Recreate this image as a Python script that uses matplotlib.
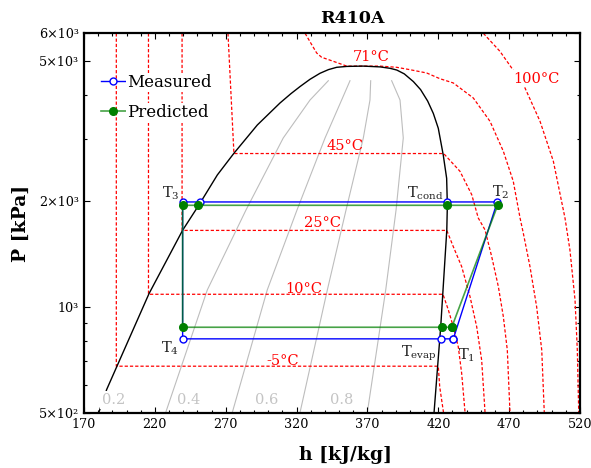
import matplotlib
matplotlib.use('Agg')
import matplotlib.pyplot as plt
from matplotlib.ticker import FixedLocator, NullFormatter, MultipleLocator

plt.rcParams['font.family'] = ['DejaVu Serif']
plt.rcParams['mathtext.fontset'] = 'dejavuserif'

# saturation dome (h kJ/kg, P kPa)
dome_h = [180.4, 186.0, 215.9, 239.6, 251.1, 264.1, 275.8, 292.3, 308.3, 316.0, 322.4, 329.5, 336.5,
          342.5, 348.3, 355.4, 366.9, 378.9, 386.0, 390.7, 396.0, 402.4, 407.5, 412.5, 416.5,
          420.0, 423.5, 425.9, 426.4, 426.0, 421.7, 417.0]
dome_p = [500, 582, 1091, 1652, 1949, 2373, 2735, 3291, 3801, 4040, 4232, 4440, 4617,
          4730, 4802, 4830, 4840, 4815, 4770, 4717, 4600, 4374, 4150, 3850, 3550,
          3221, 2704, 2321, 1945, 1652, 877, 500]

# isotherms
iso_m5_h = [192.8, 192.8, 420.0, 421.0, 423.7]
iso_m5_p = [6000, 678, 678, 593, 500]
iso_10_h = [215.5, 215.5, 423.3, 427.1, 430.6, 434.1, 436.5, 438.9]
iso_10_p = [6000, 1086, 1086, 980, 878, 770, 647, 500]
iso_25_h = [239.2, 239.2, 426.0, 430.6, 436.5, 442.4, 447.1, 450.6, 453.0]
iso_25_p = [6000, 1650, 1650, 1483, 1302, 1069, 878, 706, 500]
iso_45_h = [271.6, 275.8, 423.8, 435.3, 443.6, 448.2, 453.0, 457.7, 462.4, 465.9, 468.7, 470.6]
iso_45_p = [6000, 2730, 2730, 2430, 2085, 1790, 1655, 1389, 1141, 938, 754, 500]
iso_71_h = [326.0, 330.7, 334.2, 337.7, 345.9, 355.4, 378.9, 390.7, 400.0, 411.8, 421.2, 430.6,
            444.7, 456.5, 465.9, 472.9, 477.7, 480.0, 484.7, 489.4, 493.0, 494.8]
iso_71_p = [6000, 5568, 5273, 5128, 4995, 4840, 4840, 4802, 4728, 4627, 4456, 4334,
            3928, 3371, 2771, 2277, 1790, 1620, 1302, 1001, 754, 500]
iso_100_h = [451.8, 463.5, 471.8, 481.2, 491.8, 501.2, 509.4, 512.9, 516.5, 518.1, 519.1]
iso_100_p = [6000, 5332, 4780, 4193, 3371, 2595, 1790, 1451, 1046, 754, 500]

# quality lines
q_p = [500, 1117, 1886, 3023, 3876, 4398]
q02_h = [227.6, 257.0, 284.3, 310.6, 329.5, 342.4]
q04_h = [274.6, 299.3, 320.3, 340.1, 351.8, 357.7]
q06_h = [322.4, 341.7, 354.9, 367.1, 371.8, 372.3]
q08_h = [369.9, 382.9, 390.2, 395.3, 393.0, 387.1]

# cycle
meas_h = [430.6, 461.6, 426.4, 251.6, 239.6, 239.6, 421.7, 430.6]
meas_p = [811, 1988, 1988, 1988, 1988, 811, 811, 811]
pred_h = [429.5, 461.9, 426.4, 250.4, 239.6, 239.6, 422.4, 429.5]
pred_p = [875, 1945, 1945, 1945, 1945, 875, 875, 875]

fig = plt.figure(figsize=(5.91, 4.68), dpi=100)
ax = fig.add_axes([84/591, 1-412.7/468, 496/591, 379.4/468])

dash = (0, (2.6, 1.6))
for hh, pp in [(iso_m5_h, iso_m5_p), (iso_10_h, iso_10_p), (iso_25_h, iso_25_p),
               (iso_45_h, iso_45_p), (iso_71_h, iso_71_p), (iso_100_h, iso_100_p)]:
    ax.plot(hh, pp, color='red', lw=0.9, ls=dash, zorder=2)

for qh in [q02_h, q04_h, q06_h, q08_h]:
    ax.plot(qh, q_p, color='#bdbdbd', lw=0.8, zorder=1)

ax.plot(dome_h, dome_p, color='black', lw=1.0, zorder=3)

ax.plot(meas_h, meas_p, color='blue', lw=1.0, marker='o', ms=5, mfc='white',
        mec='blue', mew=1.0, label='Measured', zorder=4)
ax.plot(pred_h, pred_p, color=(0, 0.5, 0, 0.72), lw=1.2, marker='o', ms=5.5, mfc='green',
        mec='green', label='Predicted', zorder=5)

# isotherm labels
wb = dict(facecolor='white', edgecolor='none', pad=1)
ax.text(372.4, 5137, '71°C', color='red', fontsize=10.5, ha='center', va='center')
ax.text(489.2, 4453, '100°C', color='red', fontsize=10.5, ha='center', va='center', bbox=wb, zorder=3)
ax.text(354.2, 2872, '45°C', color='red', fontsize=10.5, ha='center', va='center')
ax.text(338.3, 1735, '25°C', color='red', fontsize=10.5, ha='center', va='center')
ax.text(325.1, 1126, '10°C', color='red', fontsize=10.5, ha='center', va='center')
ax.text(310.0, 702, '-5°C', color='red', fontsize=10.5, ha='center', va='center')

# quality labels
for xq, lab in zip([190.7, 244.1, 298.9, 351.8], ['0.2', '0.4', '0.6', '0.8']):
    ax.text(xq, 544, lab, color='#c4c4c4', fontsize=10.5, ha='center', va='center',
            bbox=dict(facecolor='white', edgecolor='none', pad=1.5), zorder=3.5)

# state point labels
tc = '#222222'
ax.text(231.4, 2108, r'T$_3$', color=tc, fontsize=10.5, ha='center', va='center')
ax.text(423.5, 2105, r'T$_{\rm cond}$', color=tc, fontsize=10.5, ha='right', va='center')
ax.text(464.1, 2115, r'T$_2$', color=tc, fontsize=10.5, ha='center', va='center')
ax.text(230.7, 763, r'T$_4$', color=tc, fontsize=10.5, ha='center', va='center')
ax.text(418.9, 738, r'T$_{\rm evap}$', color=tc, fontsize=10.5, ha='right', va='center')
ax.text(440.0, 730, r'T$_1$', color=tc, fontsize=10.5, ha='center', va='center')

ax.set_xlim(170, 520)
ax.set_yscale('log')
ax.set_ylim(500, 6000)

ax.xaxis.set_major_locator(FixedLocator([170, 220, 270, 320, 370, 420, 470, 520]))
ax.xaxis.set_minor_locator(MultipleLocator(10))
ax.yaxis.set_major_locator(FixedLocator([500, 1000, 2000, 5000, 6000]))
ax.yaxis.set_major_formatter(plt.FixedFormatter(['5×10²', '10³', '2×10³', '5×10³', '6×10³']))
ax.yaxis.set_minor_locator(FixedLocator([600, 700, 800, 900, 3000, 4000]))
ax.yaxis.set_minor_formatter(NullFormatter())
ax.tick_params(which='both', direction='in', top=True, right=True, labelsize=9.2, width=0.8)
ax.tick_params(which='major', length=4)
ax.tick_params(which='minor', length=2.5)
for s in ax.spines.values():
    s.set_linewidth(1.6)

ax.set_xlabel('h [kJ/kg]', fontsize=13.5, fontweight='bold')
ax.xaxis.set_label_coords(0.528, -0.088)
ax.set_ylabel('P [kPa]', fontsize=13.5, fontweight='bold')
ax.yaxis.set_label_coords(-0.109, 0.5)

fig.text(352.5/591, 1-18.3/468, 'R410A', fontsize=12.5, fontweight='bold', ha='center', va='center')

leg = ax.legend(loc='upper left', bbox_to_anchor=(0.034, 0.893), frameon=False, fontsize=12,
                handlelength=1.5, handletextpad=0.1, labelspacing=0.8, borderpad=0, borderaxespad=0)
for t in leg.get_texts():
    t.set_bbox(dict(facecolor='white', edgecolor='none', pad=1))

fig.savefig('out.png', dpi=100)
